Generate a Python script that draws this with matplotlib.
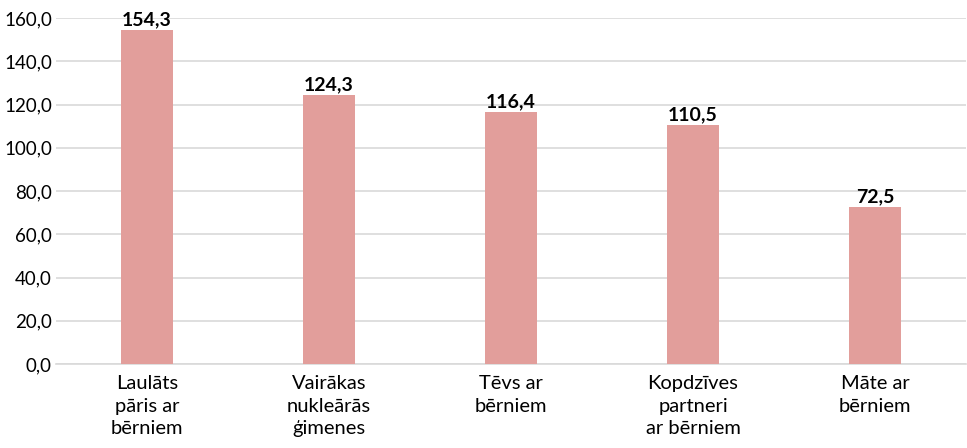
import numpy as np
import matplotlib.pyplot as plt

plt.rcParams['font.family'] = ['Lato', 'DejaVu Sans']

categories = ['Laulāts\npāris ar\nbērniem', 'Vairākas\nnukleārās\nģimenes', 'Tēvs ar\nbērniem',
              'Kopdzīves\npartneri\nar bērniem', 'Māte ar\nbērniem']
values = [154.3, 124.3, 116.4, 110.5, 72.5]
yticks = [0, 20, 40, 60, 80, 100, 120, 140, 160]

fig = plt.figure(figsize=(9.67, 4.48), dpi=100)
ax = fig.add_axes([0.058, 0.1875, 0.941, 0.772])

x = np.arange(len(values))
ax.bar(x, values, width=0.285, color='#e29e9b', zorder=3)
for xi, v in zip(x, values):
    ax.text(xi, v + 0.8, f'{v:.1f}'.replace('.', ','), ha='center', va='bottom',
            fontsize=14, fontweight='bold', color='black')

ax.set_xlim(-0.5, 4.5)
ax.set_ylim(0, 160)
ax.set_yticks(yticks)
ax.set_yticklabels([f'{t:.1f}'.replace('.', ',') for t in yticks], fontsize=13.5)
ax.set_xticks(x)
ax.set_xticklabels(categories, fontsize=14.5, linespacing=1.4)
ax.grid(axis='y', color='#d9d9d9', linewidth=1.2, zorder=0)
ax.tick_params(axis='y', length=0, pad=3)
ax.tick_params(axis='x', length=0, pad=8)
for s in ['top', 'right', 'left']:
    ax.spines[s].set_visible(False)
ax.spines['bottom'].set_color('#d9d9d9')
ax.spines['bottom'].set_linewidth(1.2)

plt.savefig('out.png')
